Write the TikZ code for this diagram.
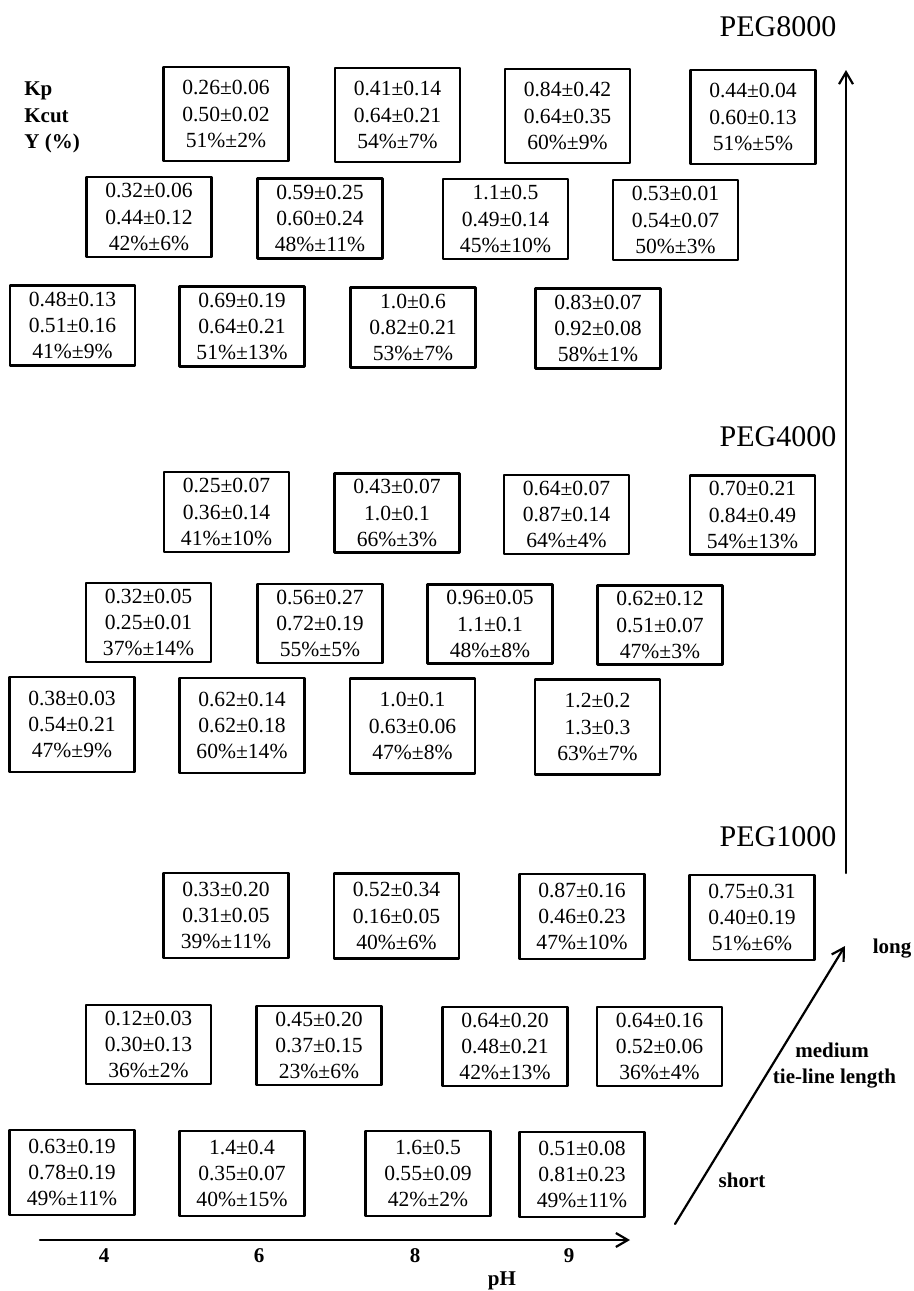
\documentclass[tikz,border=0pt]{standalone}
\usepackage{fontspec}
\setmainfont{Liberation Serif}
\usetikzlibrary{arrows.meta}
\begin{document}
\begin{tikzpicture}[x=0.5pt, y=-0.5pt, line join=round, line cap=round, >={Straight Barb[length=6pt,width=7pt]},
cell/.style={draw, line width=1.1pt, minimum width=62.5pt, inner sep=0pt, align=center, font=\fontsize{10.8}{13.2}\selectfont},
lab/.style={inner sep=0pt, anchor=base, font=\fontsize{10.5}{13}\selectfont\bfseries},
peg/.style={inner sep=0pt, anchor=base, font=\fontsize{15}{18}\selectfont}]
\useasboundingbox (0,0) rectangle (914,1291);
\path (40,1240) coordinate (P0) (630,1240) coordinate (P1) (846,873) coordinate (M0) (846,70) coordinate (M1)
(675,1224) coordinate (T0) (845,946) coordinate (T1);
% PEG8000
\foreach \n/\x/\y/\h/\kp/\kcut/\yld in {g8a1/226/114/94/0.26±0.06/0.50±0.02/51\%±2\%, g8a2/397.5/115/94/0.41±0.14/0.64±0.21/54\%±7\%,
g8a3/567.5/116/94/0.84±0.42/0.64±0.35/60\%±9\%, g8a4/753/117/94/0.44±0.04/0.60±0.13/51\%±5\%,
g8b1/149/217/80/0.32±0.06/0.44±0.12/42\%±6\%, g8b2/320/218.5/80/0.59±0.25/0.60±0.24/48\%±11\%,
g8b3/505.5/219/80/1.1±0.5/0.49±0.14/45\%±10\%, g8b4/675.5/220/80/0.53±0.01/0.54±0.07/50\%±3\%,
g8c1/72.5/325.5/80/0.48±0.13/0.51±0.16/41\%±9\%, g8c2/242/326.5/80/0.69±0.19/0.64±0.21/51\%±13\%,
g8c3/413/327.5/80/1.0±0.6/0.82±0.21/53\%±7\%, g8c4/598/328.5/80/0.83±0.07/0.92±0.08/58\%±1\%}
{\node[cell, minimum height=\h*0.5pt] (\n) at (\x,\y) {\kp\\\kcut\\\yld};}
% PEG4000
\foreach \n/\x/\y/\h/\kp/\kcut/\yld in {g4a1/226.5/512/80/0.25±0.07/0.36±0.14/41\%±10\%, g4a2/397/513/79/0.43±0.07/1.0±0.1/66\%±3\%,
g4a3/566.5/514.5/79/0.64±0.07/0.87±0.14/64\%±4\%, g4a4/752.5/515/79/0.70±0.21/0.84±0.49/54\%±13\%,
g4b1/148.5/622.5/79/0.32±0.05/0.25±0.01/37\%±14\%, g4b2/320/623.5/79/0.56±0.27/0.72±0.19/55\%±5\%,
g4b3/490/624/79/0.96±0.05/1.1±0.1/48\%±8\%, g4b4/660/625/79/0.62±0.12/0.51±0.07/47\%±3\%,
g4c1/72/724.5/95/0.38±0.03/0.54±0.21/47\%±9\%, g4c2/242/725.5/95/0.62±0.14/0.62±0.18/60\%±14\%,
g4c3/412.5/726/95/1.0±0.1/0.63±0.06/47\%±8\%, g4c4/597.5/727/95/1.2±0.2/1.3±0.3/63\%±7\%}
{\node[cell, minimum height=\h*0.5pt] (\n) at (\x,\y) {\kp\\\kcut\\\yld};}
% PEG1000
\foreach \n/\x/\y/\h/\kp/\kcut/\yld in {g1a1/226/915.5/85/0.33±0.20/0.31±0.05/39\%±11\%, g1a2/396.5/916/85/0.52±0.34/0.16±0.05/40\%±6\%,
g1a3/582/916.5/85/0.87±0.16/0.46±0.23/47\%±10\%, g1a4/752/917.5/85/0.75±0.31/0.40±0.19/51\%±6\%,
g1b1/148.5/1044.5/79/0.12±0.03/0.30±0.13/36\%±2\%, g1b2/319/1045.5/79/0.45±0.20/0.37±0.15/23\%±6\%,
g1b3/505/1046.5/79/0.64±0.20/0.48±0.21/42\%±13\%, g1b4/659.5/1046.5/79/0.64±0.16/0.52±0.06/36\%±4\%,
g1c1/72/1172.5/85/0.63±0.19/0.78±0.19/49\%±11\%, g1c2/242/1173.5/85/1.4±0.4/0.35±0.07/40\%±15\%,
g1c3/428/1173.5/85/1.6±0.5/0.55±0.09/42\%±2\%, g1c4/582/1174.5/85/0.51±0.08/0.81±0.23/49\%±11\%}
{\node[cell, minimum height=\h*0.5pt] (\n) at (\x,\y) {\kp\\\kcut\\\yld};}
\foreach \n/\y/\t in {kp/95/Kp, kcut/122/Kcut, yld/148/Y (\%)}{\node[lab, anchor=base west] (\n) at (24,\y) {\t};}
\foreach \n/\y/\t in {peg8/36/PEG8000, peg4/446/PEG4000, peg1/846/PEG1000}{\node[peg] (\n) at (778,\y) {\t};}
\foreach \t/\x in {4/104, 6/259, 8/415, 9/569}{\node[lab] (ph\t) at (\x,1262) {\t};}
\node[lab] (ph) at (502,1285) {pH};
\node[lab] (long) at (892,953) {long};
\node[lab] (medium) at (832,1057) {medium};
\node[lab] (tie) at (834.5,1083) {tie-line length};
\node[lab] (short) at (742,1187) {short};
\draw[->, line width=1.1pt] (P0)--(P1);
\draw[->, line width=1.1pt] (M0)--(M1);
\draw[->, line width=1.1pt] (T0)--(T1);
\end{tikzpicture}
\end{document}
